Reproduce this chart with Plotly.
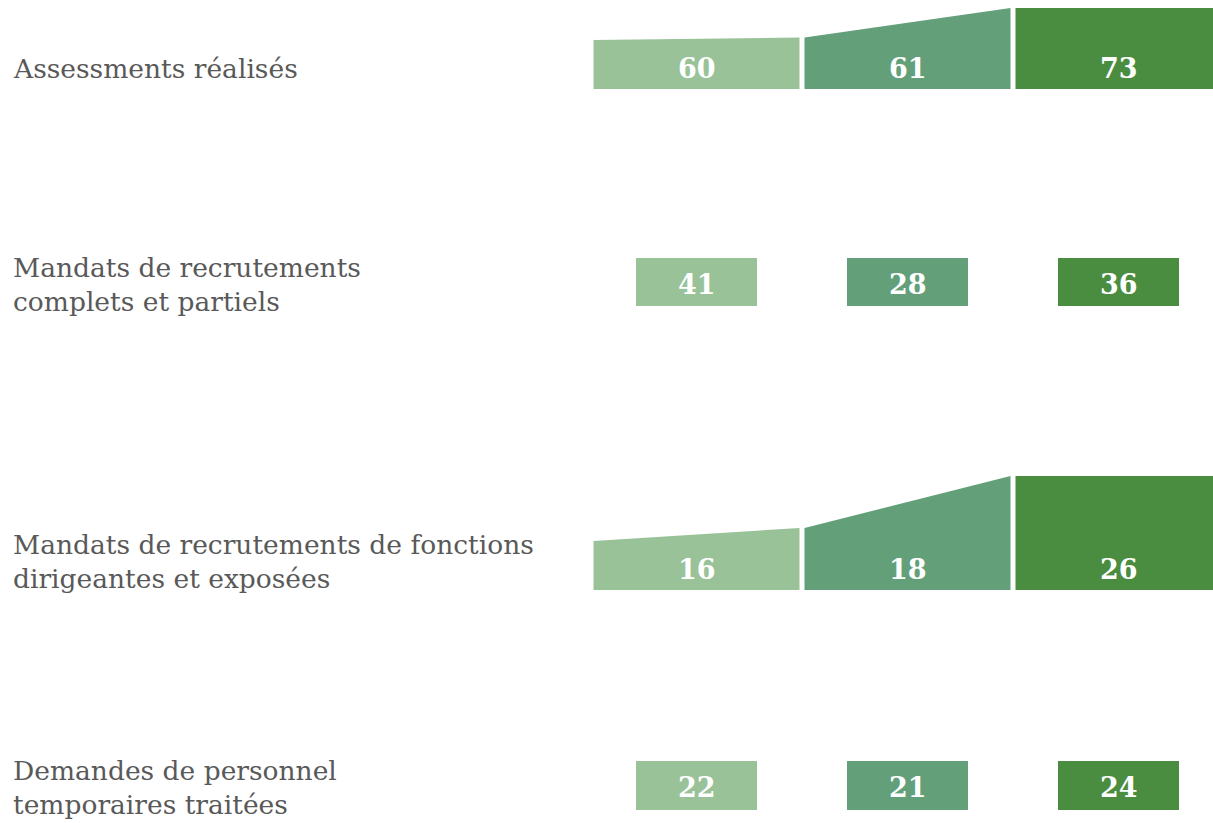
import plotly.graph_objects as go

categories = [
    "Assessments réalisés",
    "Mandats de recrutements<br>complets et partiels",
    "Mandats de recrutements de fonctions<br>dirigeantes et exposées",
    "Demandes de personnel<br>temporaires traitées",
]
periods = ["Année 1", "Année 2", "Année 3"]
assessments = [60, 61, 73]
mandats = [41, 28, 36]
mandats_dirigeants = [16, 18, 26]
temporaires = [22, 21, 24]

colors = ["#99C299", "#63A07A", "#4A8C40"]
W, H = 1213, 823
FONT = "DejaVu Serif"

fig = go.Figure()

# x axis: period index, centres 211 px apart
px_per_idx = 211.0
centre0 = 696.5
x_range = [-centre0 / px_per_idx, (W - centre0) / px_per_idx]
gap = 2.5 / px_per_idx
half_box = 60.5 / px_per_idx


def area_row(values, yaxis):
    n = len(values)
    for i, v in enumerate(values):
        right_v = values[i + 1] if i + 1 < n else v
        x0, x1 = i - 0.5 + gap, i + 0.5 - gap
        if i == n - 1:
            x1 = i + 0.6
        base = fig.layout[yaxis.replace("y", "yaxis")].range[0]
        fig.add_trace(go.Scatter(
            x=[x0, x0, x1, x1, x0], y=[base, v, right_v, base, base],
            fill="toself", fillcolor=colors[i], mode="lines", line=dict(width=0),
            yaxis=yaxis, hoverinfo="skip", showlegend=False))
        fig.add_annotation(x=i, y=base, xref="x", yref=yaxis, text=f"<b>{v}</b>",
                           showarrow=False, yanchor="middle", yshift=21,
                           font=dict(family=FONT, size=27, color="white"))


def box_row(values, yaxis):
    for i, v in enumerate(values):
        x0, x1 = i - half_box, i + half_box
        fig.add_trace(go.Scatter(
            x=[x0, x0, x1, x1, x0], y=[0, 1, 1, 0, 0],
            fill="toself", fillcolor=colors[i], mode="lines", line=dict(width=0),
            yaxis=yaxis, hoverinfo="skip", showlegend=False))
        fig.add_annotation(x=i, y=0.5, xref="x", yref=yaxis, text=f"<b>{v}</b>",
                           showarrow=False, yanchor="middle", yshift=-2,
                           font=dict(family=FONT, size=27, color="white"))


def pdom(top_px, bottom_px):
    return [1 - bottom_px / H, 1 - top_px / H]


axis_common = dict(visible=False, fixedrange=True)
fig.update_layout(
    width=W, height=H, margin=dict(l=0, r=0, t=0, b=0),
    paper_bgcolor="white", plot_bgcolor="white",
    xaxis=dict(range=x_range, visible=False, fixedrange=True),
    yaxis=dict(domain=pdom(0, 89), range=[40.1, 40.1 + 89 / 2.46], **axis_common),
    yaxis2=dict(domain=pdom(258, 306), range=[0, 1], **axis_common),
    yaxis3=dict(domain=pdom(460, 590), range=[8.46, 8.46 + 130 / 6.5], **axis_common),
    yaxis4=dict(domain=pdom(761, 810), range=[0, 1], **axis_common),
)

area_row(assessments, "y")
box_row(mandats, "y2")
area_row(mandats_dirigeants, "y3")
box_row(temporaires, "y4")

label_centres_px = [68, 284, 561, 787]
for cat, cy in zip(categories, label_centres_px):
    fig.add_annotation(x=11 / W, y=1 - cy / H, xref="paper", yref="paper",
                       text=cat, showarrow=False, xanchor="left", yanchor="middle",
                       align="left", font=dict(family=FONT, size=26.5, color="#595959"))

fig.write_html("out.html", config={"displayModeBar": False},
               post_script="document.body.style.margin='0';")
